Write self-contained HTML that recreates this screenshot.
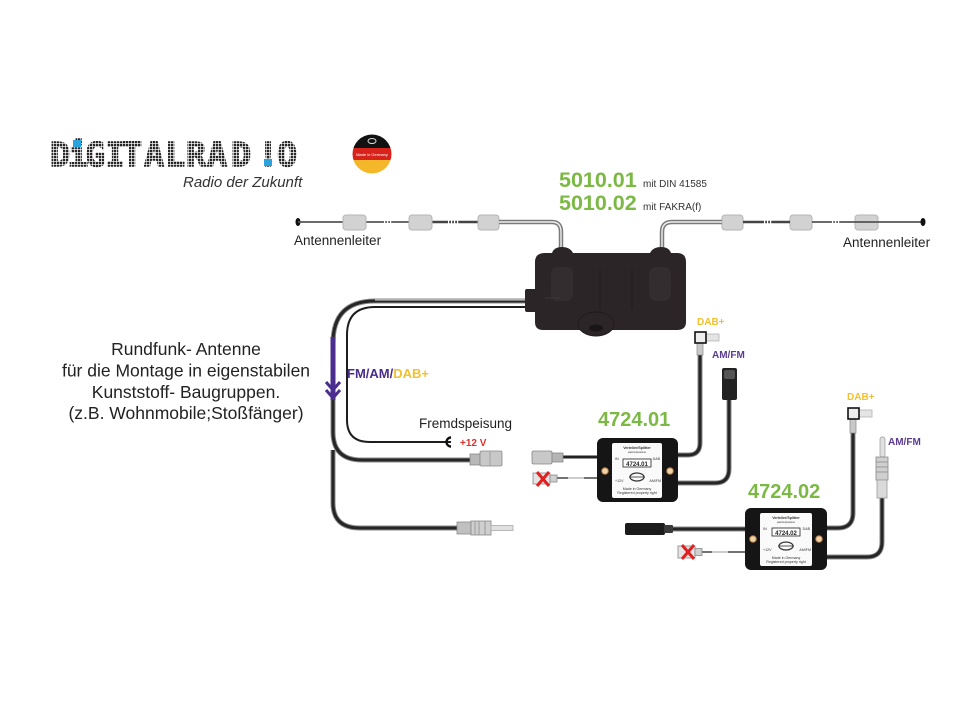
<!DOCTYPE html>
<html><head><meta charset="utf-8"><style>
html,body{margin:0;padding:0;background:#fff;}
#c{position:relative;width:954px;height:713px;overflow:hidden;background:#fff;}
svg{position:absolute;left:0;top:0;}
</style></head><body><div id="c">
<svg width="954" height="713" viewBox="0 0 954 713" xmlns="http://www.w3.org/2000/svg" font-family="'Liberation Sans', Arial, sans-serif">
<defs>
<pattern id="dots" width="3" height="3" patternUnits="userSpaceOnUse"><rect x="0" y="0" width="2.3" height="2.3" fill="#262626"/></pattern>
<clipPath id="flagc"><circle cx="372" cy="154" r="19.5"/></clipPath>
</defs>

<!-- LOGO -->
<g font-family="'DejaVu Sans Mono', 'Liberation Mono', monospace" font-weight="bold" font-size="33" fill="url(#dots)" stroke="url(#dots)" stroke-width="1.6" text-anchor="middle">
<text x="60" y="166">D</text><text x="78" y="166">i</text><text x="95" y="166">G</text><text x="115" y="166">I</text><text x="132" y="166">T</text><text x="154" y="166">A</text><text x="175" y="166">L</text><text x="196" y="166">R</text><text x="217" y="166">A</text><text x="241" y="166">D</text><text x="268" y="166">!</text><text x="287" y="166">O</text>
</g>
<rect x="73" y="140" width="8" height="7" fill="#2aa3dc"/>
<rect x="264" y="159" width="8" height="7" fill="#2aa3dc"/>
<text x="183" y="187" font-size="15" font-style="italic" fill="#333">Radio der Zukunft</text>

<!-- flag -->
<g clip-path="url(#flagc)">
<rect x="350" y="133" width="45" height="15" fill="#111"/>
<rect x="350" y="148" width="45" height="12" fill="#d8231c"/>
<rect x="350" y="160" width="45" height="15" fill="#f5b72a"/>
</g>
<ellipse cx="372" cy="141" rx="4" ry="2.5" fill="none" stroke="#ddd" stroke-width="1"/>
<text x="372" y="156" font-size="4" fill="#fff" text-anchor="middle">Made in Germany</text>

<!-- TOP LEFT ANTENNA -->
<ellipse cx="298" cy="222" rx="2.5" ry="4" fill="#111"/>
<line x1="298" y1="222" x2="500" y2="222" stroke="#555" stroke-width="1.8"/>
<line x1="432" y1="222" x2="478" y2="222" stroke="#444" stroke-width="2.6"/>
<g fill="#fff"><rect x="384" y="220" width="1.2" height="4"/><rect x="387" y="220" width="1.2" height="4"/><rect x="390" y="220" width="1.2" height="4"/>
<rect x="448" y="219.5" width="1.2" height="5"/><rect x="451" y="219.5" width="1.2" height="5"/><rect x="454" y="219.5" width="1.2" height="5"/><rect x="457" y="219.5" width="1.2" height="5"/></g>
<g fill="#d2d2d2" stroke="#b5b5b5" stroke-width="1">
<rect x="343" y="215" width="23" height="15" rx="3"/>
<rect x="409" y="215" width="23" height="15" rx="3"/>
<rect x="478" y="215" width="21" height="15" rx="3"/>
<rect x="722" y="215" width="21" height="15" rx="3"/>
<rect x="790" y="215" width="22" height="15" rx="3"/>
<rect x="855" y="215" width="23" height="15" rx="3"/>
</g>
<text x="294" y="245" font-size="13.5" fill="#222">Antennenleiter</text>

<!-- leads into box -->
<path d="M499 222 H552 Q561 222 561 232 V258" fill="none" stroke="#7a7a7a" stroke-width="4.5"/>
<path d="M499 222 H552 Q561 222 561 232 V258" fill="none" stroke="#eee" stroke-width="1.4"/>
<path d="M722 222 H672 Q662 222 662 232 V258" fill="none" stroke="#7a7a7a" stroke-width="4.5"/>
<path d="M722 222 H672 Q662 222 662 232 V258" fill="none" stroke="#eee" stroke-width="1.4"/>

<!-- TOP RIGHT ANTENNA -->
<line x1="743" y1="222" x2="790" y2="222" stroke="#444" stroke-width="2.6"/>
<line x1="812" y1="222" x2="923" y2="222" stroke="#555" stroke-width="1.8"/>
<g fill="#fff"><rect x="764" y="219.5" width="1.2" height="5"/><rect x="767" y="219.5" width="1.2" height="5"/><rect x="770" y="219.5" width="1.2" height="5"/>
<rect x="832" y="220" width="1.2" height="4"/><rect x="835" y="220" width="1.2" height="4"/><rect x="838" y="220" width="1.2" height="4"/></g>
<ellipse cx="923" cy="222" rx="2.5" ry="4" fill="#111"/>
<text x="843" y="247" font-size="13.5" fill="#222">Antennenleiter</text>

<!-- product numbers -->
<text x="559" y="187" font-size="21.5" font-weight="bold" fill="#7cb944">5010.01</text>
<text x="643" y="187" font-size="10" fill="#333">mit DIN 41585</text>
<text x="559" y="210" font-size="21.5" font-weight="bold" fill="#7cb944">5010.02</text>
<text x="643" y="210" font-size="10" fill="#333">mit FAKRA(f)</text>

<!-- LEFT CABLES from box -->
<path d="M528 301 H375 Q333 301 333 343 V432 Q333 460 362 460 H471" fill="none" stroke="#8a8a8a" stroke-width="5"/>
<path d="M528 301 H375 Q333 301 333 343 V432 Q333 460 362 460 H471" fill="none" stroke="#262626" stroke-width="3"/>
<path d="M528 300 H375" fill="none" stroke="#ddd" stroke-width="1"/>
<path d="M528 307 H375 Q347 307 347 335 V420 Q347 442 370 442 H451" fill="none" stroke="#1e1e1e" stroke-width="2"/>
<path d="M451 437.5 A 4.5 4.5 0 1 0 451 446.5" fill="none" stroke="#111" stroke-width="2.4"/>
<text x="460" y="446" font-size="10" font-weight="bold" fill="#e0302a">+12 V</text>
<text x="419" y="428" font-size="13.5" fill="#222">Fremdspeisung</text>
<path d="M333 450 V503 Q333 528 360 528 H458" fill="none" stroke="#8a8a8a" stroke-width="5"/>
<path d="M333 450 V503 Q333 528 360 528 H458" fill="none" stroke="#262626" stroke-width="3"/>

<!-- purple arrow -->
<line x1="333" y1="337" x2="333" y2="400" stroke="#4a2d8c" stroke-width="5"/>
<polyline points="326,382 333,390 340,382" fill="none" stroke="#4a2d8c" stroke-width="3"/>
<polyline points="326,390 333,398 340,390" fill="none" stroke="#4a2d8c" stroke-width="3"/>
<text x="347" y="378" font-size="13" font-weight="bold"><tspan fill="#4a2d8c">FM/AM/</tspan><tspan fill="#f2c12e">DAB+</tspan></text>

<!-- FAKRA male -->
<rect x="470" y="454" width="10" height="11" fill="#b8b8b8" stroke="#888" stroke-width="0.8"/>
<rect x="480" y="451" width="22" height="15" rx="1.5" fill="#c8c8c8" stroke="#888" stroke-width="0.8"/>
<line x1="490" y1="451" x2="490" y2="466" stroke="#999" stroke-width="0.8"/>
<!-- ISO male -->
<rect x="457" y="522" width="14" height="12" fill="#c0c0c0" stroke="#888" stroke-width="0.8"/>
<rect x="471" y="521" width="20" height="14" fill="#cfcfcf" stroke="#888" stroke-width="0.8"/>
<line x1="475" y1="521" x2="475" y2="535" stroke="#999"/><line x1="479" y1="521" x2="479" y2="535" stroke="#999"/><line x1="485" y1="521" x2="485" y2="535" stroke="#999"/>
<rect x="491" y="525.5" width="22" height="5" fill="#e0e0e0" stroke="#aaa" stroke-width="0.8"/>

<!-- MAIN BOX -->
<rect x="525" y="289" width="14" height="23" rx="2" fill="#2b2527"/>
<path d="M535 262 Q535 253 545 253 L552 253 Q554 247 562 247 Q570 247 573 253 L650 253 Q653 247 661 247 Q669 247 671 253 L677 253 Q686 253 686 262 L686 322 Q686 330 677 330 L543 330 Q535 330 535 322 Z" fill="#2b2527"/>
<rect x="551" y="267" width="22" height="34" rx="7" fill="#342d30"/>
<rect x="649" y="267" width="22" height="34" rx="7" fill="#342d30"/>
<line x1="600" y1="270" x2="600" y2="310" stroke="#221c1e" stroke-width="1"/>
<line x1="632" y1="270" x2="632" y2="310" stroke="#221c1e" stroke-width="1"/>
<line x1="545" y1="298" x2="560" y2="298" stroke="#3e3739" stroke-width="1"/>
<ellipse cx="596" cy="324" rx="18" ry="12" fill="#2b2527" stroke="#1f1a1c" stroke-width="1"/>
<ellipse cx="596" cy="328" rx="7" ry="3.5" fill="#1a1517"/>

<!-- SPLITTER 4724.01 -->
<text x="598" y="426" font-size="20" font-weight="bold" fill="#7cb944">4724.01</text>
<path d="M678 455 H688 Q700 455 700 443 V350" fill="none" stroke="#8a8a8a" stroke-width="5"/>
<path d="M678 455 H688 Q700 455 700 443 V350" fill="none" stroke="#262626" stroke-width="3"/>
<rect x="697" y="343" width="6" height="12" fill="#c8c8c8" stroke="#888" stroke-width="0.7"/>
<rect x="706" y="334" width="13" height="7" fill="#e4e4e4" stroke="#aaa" stroke-width="0.7"/>
<rect x="695" y="332" width="11" height="11" fill="#eee" stroke="#111" stroke-width="1.6"/>
<text x="697" y="325" font-size="10" font-weight="bold" fill="#f2c12e">DAB+</text>
<path d="M678 483 H715 Q729 483 729 469 V400" fill="none" stroke="#8a8a8a" stroke-width="5"/>
<path d="M678 483 H715 Q729 483 729 469 V400" fill="none" stroke="#262626" stroke-width="3"/>
<rect x="722" y="368" width="15" height="32" rx="2" fill="#222"/>
<rect x="724" y="370" width="11" height="9" rx="2" fill="#555"/>
<text x="712" y="358" font-size="10" font-weight="bold" fill="#5b3b8f">AM/FM</text>
<line x1="563" y1="457" x2="598" y2="457" stroke="#222" stroke-width="3"/>
<rect x="532" y="451" width="20" height="13" rx="1.5" fill="#c8c8c8" stroke="#888" stroke-width="0.8"/>
<rect x="552" y="453" width="11" height="9" fill="#b5b5b5" stroke="#888" stroke-width="0.8"/>
<line x1="557" y1="478" x2="598" y2="478" stroke="#444" stroke-width="1.5"/>
<line x1="568" y1="478" x2="584" y2="478" stroke="#ccc" stroke-width="2"/>
<rect x="533" y="473" width="17" height="11" fill="#e4e4e4" stroke="#888" stroke-width="0.8"/>
<rect x="550" y="475" width="7" height="7" fill="#d0d0d0" stroke="#888" stroke-width="0.8"/>
<line x1="537" y1="472" x2="549" y2="486" stroke="#e02020" stroke-width="3"/>
<line x1="549" y1="472" x2="537" y2="486" stroke="#e02020" stroke-width="3"/>
<rect x="597" y="438" width="81" height="64" rx="6" fill="#151515"/>
<rect x="612" y="443" width="50" height="55" rx="2" fill="#fafafa"/>
<circle cx="605" cy="471" r="3.3" fill="#f0d3a8" stroke="#b07a40" stroke-width="1"/>
<circle cx="670" cy="471" r="3.3" fill="#f0d3a8" stroke="#b07a40" stroke-width="1"/>
<g font-size="3.6" fill="#333" text-anchor="middle">
<text x="637" y="449" font-weight="bold">Verteiler/Splitter</text>
<text x="637" y="453" font-size="2.8">passiv/passive</text>
<text x="615" y="460" text-anchor="start">IN</text>
<text x="660" y="460" text-anchor="end">DAB</text>
<text x="615" y="482" text-anchor="start">+12V</text>
<text x="661" y="482" text-anchor="end">AM/FM</text>
<text x="637" y="490">Made in Germany</text>
<text x="637" y="494">Registered property right</text>
</g>
<rect x="623" y="459" width="28" height="8" fill="#fff" stroke="#222" stroke-width="0.8"/>
<text x="637" y="466" font-size="6" font-weight="bold" fill="#222" text-anchor="middle">4724.01</text>
<ellipse cx="637" cy="477" rx="7" ry="4" fill="none" stroke="#333" stroke-width="1.2"/>
<line x1="629" y1="477" x2="645" y2="477" stroke="#333" stroke-width="0.8"/>

<!-- SPLITTER 4724.02 -->
<text x="748" y="498" font-size="20" font-weight="bold" fill="#7cb944">4724.02</text>
<path d="M827 528 H838 Q853 528 853 513 V425" fill="none" stroke="#8a8a8a" stroke-width="5"/>
<path d="M827 528 H838 Q853 528 853 513 V425" fill="none" stroke="#262626" stroke-width="3"/>
<rect x="850" y="419" width="6" height="14" fill="#c8c8c8" stroke="#888" stroke-width="0.7"/>
<rect x="859" y="410" width="13" height="7" fill="#e4e4e4" stroke="#aaa" stroke-width="0.7"/>
<rect x="848" y="408" width="11" height="11" fill="#eee" stroke="#111" stroke-width="1.6"/>
<text x="847" y="400" font-size="10" font-weight="bold" fill="#f2c12e">DAB+</text>
<path d="M827 557 H867 Q882 557 882 542 V498" fill="none" stroke="#8a8a8a" stroke-width="5"/>
<path d="M827 557 H867 Q882 557 882 542 V498" fill="none" stroke="#262626" stroke-width="3"/>
<rect x="880" y="437" width="5" height="20" rx="2" fill="#e0e0e0" stroke="#999" stroke-width="0.7"/>
<rect x="876" y="457" width="12" height="23" fill="#cfcfcf" stroke="#888" stroke-width="0.8"/>
<line x1="876" y1="462" x2="888" y2="462" stroke="#999"/><line x1="876" y1="467" x2="888" y2="467" stroke="#999"/><line x1="876" y1="472" x2="888" y2="472" stroke="#999"/>
<rect x="877" y="480" width="10" height="18" fill="#dadada" stroke="#999" stroke-width="0.8"/>
<text x="888" y="445" font-size="10" font-weight="bold" fill="#5b3b8f">AM/FM</text>
<line x1="670" y1="529" x2="746" y2="529" stroke="#8a8a8a" stroke-width="5"/>
<line x1="670" y1="529" x2="746" y2="529" stroke="#262626" stroke-width="3"/>
<rect x="625" y="523" width="40" height="12" rx="2" fill="#1c1c1c"/>
<rect x="664" y="525" width="9" height="8" rx="1" fill="#3a3a3a"/>
<line x1="702" y1="552" x2="746" y2="552" stroke="#444" stroke-width="1.5"/>
<line x1="712" y1="552" x2="728" y2="552" stroke="#ccc" stroke-width="2"/>
<rect x="678" y="546" width="17" height="12" fill="#e4e4e4" stroke="#888" stroke-width="0.8"/>
<rect x="695" y="548.5" width="7" height="7" fill="#d0d0d0" stroke="#888" stroke-width="0.8"/>
<line x1="682" y1="545" x2="694" y2="559" stroke="#e02020" stroke-width="3"/>
<line x1="694" y1="545" x2="682" y2="559" stroke="#e02020" stroke-width="3"/>
<rect x="745" y="508" width="82" height="62" rx="6" fill="#151515"/>
<rect x="760" y="513" width="52" height="53" rx="2" fill="#fafafa"/>
<circle cx="753" cy="539" r="3.3" fill="#f0d3a8" stroke="#b07a40" stroke-width="1"/>
<circle cx="819" cy="539" r="3.3" fill="#f0d3a8" stroke="#b07a40" stroke-width="1"/>
<g font-size="3.6" fill="#333" text-anchor="middle">
<text x="786" y="519" font-weight="bold">Verteiler/Splitter</text>
<text x="786" y="523" font-size="2.8">passiv/passive</text>
<text x="763" y="530" text-anchor="start">IN</text>
<text x="810" y="530" text-anchor="end">DAB</text>
<text x="763" y="551" text-anchor="start">+12V</text>
<text x="811" y="551" text-anchor="end">AM/FM</text>
<text x="786" y="559">Made in Germany</text>
<text x="786" y="563">Registered property right</text>
</g>
<rect x="772" y="528" width="28" height="8" fill="#fff" stroke="#222" stroke-width="0.8"/>
<text x="786" y="535" font-size="6" font-weight="bold" fill="#222" text-anchor="middle">4724.02</text>
<ellipse cx="786" cy="546" rx="7" ry="4" fill="none" stroke="#333" stroke-width="1.2"/>
<line x1="778" y1="546" x2="794" y2="546" stroke="#333" stroke-width="0.8"/>

<!-- LEFT TEXT -->
<g font-size="17.5" fill="#222" text-anchor="middle">
<text x="186" y="355">Rundfunk- Antenne</text>
<text x="186" y="376.5">für die Montage in eigenstabilen</text>
<text x="186" y="398">Kunststoff- Baugruppen.</text>
<text x="186" y="419">(z.B. Wohnmobile;Stoßfänger)</text>
</g>
</svg>
</div></body></html>
